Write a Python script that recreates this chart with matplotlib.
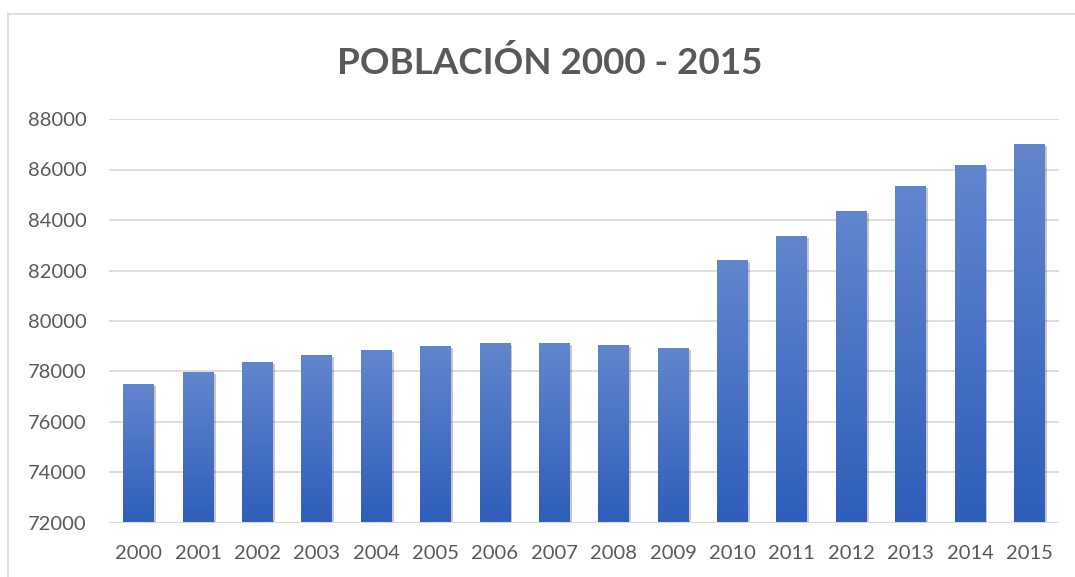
import numpy as np
import matplotlib.pyplot as plt
import matplotlib.patheffects as pe
from matplotlib.lines import Line2D
from matplotlib.colors import LinearSegmentedColormap

# --- DATA ---
years = ['2000', '2001', '2002', '2003', '2004', '2005', '2006', '2007',
         '2008', '2009', '2010', '2011', '2012', '2013', '2014', '2015']
poblacion = [77500, 77980, 78370, 78650, 78850, 79010, 79120, 79120,
             79050, 78930, 82410, 83360, 84350, 85340, 86170, 87010]
yticks = [72000, 74000, 76000, 78000, 80000, 82000, 84000, 86000, 88000]

plt.rcParams['font.family'] = ['Lato', 'DejaVu Sans']
txt_color = '#595959'
grid_color = '#D9D9D9'

fig = plt.figure(figsize=(10.75, 5.77), dpi=100)
ax = fig.add_axes([109/1075, 1 - 523/577, 950/1075, 404/577])

x = np.arange(len(years))
bars = ax.bar(x, poblacion, width=0.52, bottom=0, color='#4A74C6', zorder=3,
              path_effects=[pe.SimplePatchShadow(offset=(1.5, -1.5), shadow_rgbFace='#000000', alpha=0.22),
                            pe.Normal()])

# vertical gradient inside each bar
grad = np.linspace(0, 1, 256).reshape(-1, 1)
cmap = LinearSegmentedColormap.from_list('g', ['#2E5EBA', '#6186CD'])
for b in bars:
    x0, w, h = b.get_x(), b.get_width(), b.get_height()
    im = ax.imshow(grad, cmap=cmap, aspect='auto', origin='lower',
                   extent=[x0, x0 + w, 72000, h], zorder=4)
    im.set_clip_path(b)

ax.set_xlim(-0.5, len(years) - 0.5)
ax.set_ylim(72000, 88000)
ax.set_yticks(yticks)
ax.set_yticklabels([str(v) for v in yticks])
ax.set_xticks(x)
ax.set_xticklabels(years)
ax.tick_params(axis='both', length=0, labelsize=14.5, colors=txt_color)
ax.tick_params(axis='y', pad=16)
ax.tick_params(axis='x', pad=16)
ax.grid(axis='y', color=grid_color, lw=1.2, zorder=0)
for s in ax.spines.values():
    s.set_visible(False)
ax.axhline(72000, color=grid_color, lw=1.5, zorder=5)

fig.text(0.511, 1 - 63/577, 'POBLACIÓN 2000 - 2015', ha='center', va='center',
         fontsize=26.5, fontweight='bold', color=txt_color)

# chart frame (top and left edges visible)
fig.add_artist(Line2D([8/1075, 1], [1 - 14/577, 1 - 14/577], transform=fig.transFigure,
                      color='#D9D9D9', lw=1.2))
fig.add_artist(Line2D([8/1075, 8/1075], [0, 1 - 14/577], transform=fig.transFigure,
                      color='#D9D9D9', lw=1.2))

fig.savefig('out.png', dpi=100)
